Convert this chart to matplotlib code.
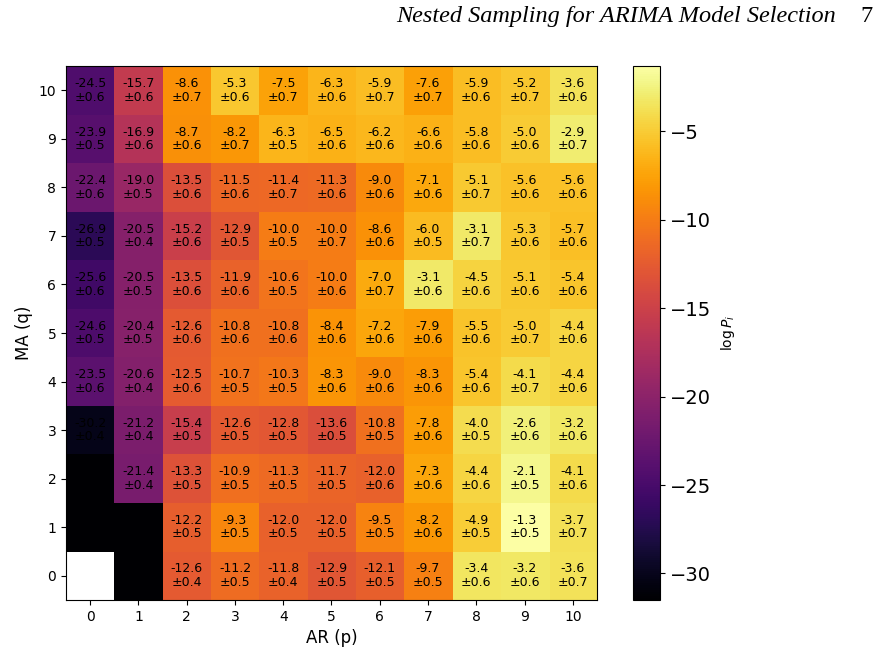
import numpy as np
import matplotlib
matplotlib.use("Agg")
import matplotlib.pyplot as plt

# log P_i for AR order p (columns 0..10) and MA order q (rows 0..10)
# NaN = not evaluated (white); -31.5 = below scale, drawn black with no label
p_orders = list(range(11))
q_orders = list(range(11))

logp_q0 = [np.nan, -31.5, -12.6, -11.2, -11.8, -12.9, -12.1, -9.7, -3.4, -3.2, -3.6]
logp_q1 = [-31.5, -31.5, -12.2, -9.3, -12.0, -12.0, -9.5, -8.2, -4.9, -1.3, -3.7]
logp_q2 = [-31.5, -21.4, -13.3, -10.9, -11.3, -11.7, -12.0, -7.3, -4.4, -2.1, -4.1]
logp_q3 = [-30.2, -21.2, -15.4, -12.6, -12.8, -13.6, -10.8, -7.8, -4.0, -2.6, -3.2]
logp_q4 = [-23.5, -20.6, -12.5, -10.7, -10.3, -8.3, -9.0, -8.3, -5.4, -4.1, -4.4]
logp_q5 = [-24.6, -20.4, -12.6, -10.8, -10.8, -8.4, -7.2, -7.9, -5.5, -5.0, -4.4]
logp_q6 = [-25.6, -20.5, -13.5, -11.9, -10.6, -10.0, -7.0, -3.1, -4.5, -5.1, -5.4]
logp_q7 = [-26.9, -20.5, -15.2, -12.9, -10.0, -10.0, -8.6, -6.0, -3.1, -5.3, -5.7]
logp_q8 = [-22.4, -19.0, -13.5, -11.5, -11.4, -11.3, -9.0, -7.1, -5.1, -5.6, -5.6]
logp_q9 = [-23.9, -16.9, -8.7, -8.2, -6.3, -6.5, -6.2, -6.6, -5.8, -5.0, -2.9]
logp_q10 = [-24.5, -15.7, -8.6, -5.3, -7.5, -6.3, -5.9, -7.6, -5.9, -5.2, -3.6]

err_q0 = [None, None, 0.4, 0.5, 0.4, 0.5, 0.5, 0.5, 0.6, 0.6, 0.7]
err_q1 = [None, None, 0.5, 0.5, 0.5, 0.5, 0.5, 0.6, 0.5, 0.5, 0.7]
err_q2 = [None, 0.4, 0.5, 0.5, 0.5, 0.5, 0.6, 0.6, 0.6, 0.5, 0.6]
err_q3 = [0.4, 0.4, 0.5, 0.5, 0.5, 0.5, 0.5, 0.6, 0.5, 0.6, 0.6]
err_q4 = [0.6, 0.4, 0.6, 0.5, 0.5, 0.6, 0.6, 0.6, 0.6, 0.7, 0.6]
err_q5 = [0.5, 0.5, 0.6, 0.6, 0.6, 0.6, 0.6, 0.6, 0.6, 0.7, 0.6]
err_q6 = [0.6, 0.5, 0.6, 0.6, 0.5, 0.6, 0.7, 0.6, 0.6, 0.6, 0.6]
err_q7 = [0.5, 0.4, 0.6, 0.5, 0.5, 0.7, 0.6, 0.5, 0.7, 0.6, 0.6]
err_q8 = [0.6, 0.5, 0.6, 0.6, 0.7, 0.6, 0.6, 0.6, 0.7, 0.6, 0.6]
err_q9 = [0.5, 0.6, 0.6, 0.7, 0.5, 0.6, 0.6, 0.6, 0.6, 0.6, 0.7]
err_q10 = [0.6, 0.6, 0.7, 0.6, 0.7, 0.6, 0.7, 0.7, 0.6, 0.7, 0.6]

logp = np.array([logp_q0, logp_q1, logp_q2, logp_q3, logp_q4, logp_q5,
                 logp_q6, logp_q7, logp_q8, logp_q9, logp_q10])
errs = [err_q0, err_q1, err_q2, err_q3, err_q4, err_q5,
        err_q6, err_q7, err_q8, err_q9, err_q10]

VMIN, VMAX = -31.5, -1.3

fig = plt.figure(figsize=(8.88, 6.59), dpi=100)
ax = fig.add_axes([0.0743, 0.0895, 0.598, 0.8103])
cax = fig.add_axes([0.7128, 0.0895, 0.0304, 0.8103])

cmap = plt.get_cmap("inferno").copy()
cmap.set_bad("white")
im = ax.imshow(np.ma.masked_invalid(logp), origin="lower", cmap=cmap,
               vmin=VMIN, vmax=VMAX, aspect="auto", interpolation="nearest")

for q in q_orders:
    for p in p_orders:
        e = errs[q][p]
        if e is None:
            continue
        ax.text(p, q, f"{logp[q, p]:.1f}\n\u00b1{e:.1f}", ha="center",
                va="center", fontsize=9, color="black", linespacing=1.05)

ax.set_xticks(p_orders)
ax.set_yticks(q_orders)
ax.tick_params(labelsize=10)
ax.set_xlabel("AR (p)", fontsize=12)
ax.set_ylabel("MA (q)", fontsize=12)

cb = fig.colorbar(im, cax=cax)
cb.set_ticks([-5, -10, -15, -20, -25, -30])
cb.ax.tick_params(labelsize=14)
cb.set_label(r"$\log P_i$", fontsize=10, labelpad=6)

# running page header of the paper this figure was cut from
fig.text(0.941, 0.975, "Nested Sampling for ARIMA Model Selection",
         ha="right", va="center", fontsize=17.5, style="italic",
         family="Liberation Serif")
fig.text(0.983, 0.975, "7", ha="right", va="center", fontsize=17.5,
         family="Liberation Serif")

fig.savefig("out.png", dpi=100)
